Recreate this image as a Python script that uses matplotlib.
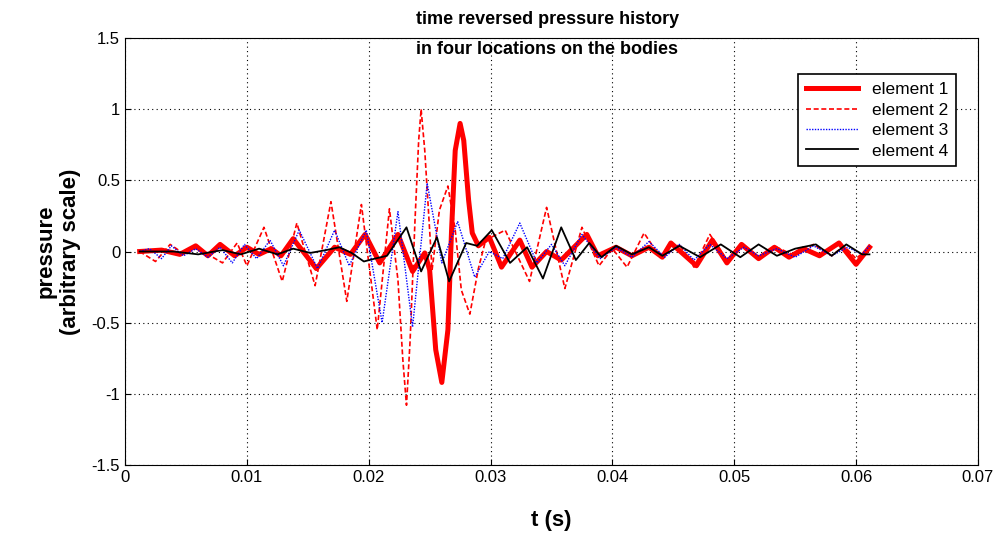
import matplotlib
matplotlib.use("Agg")
import matplotlib.pyplot as plt

plt.rcParams["font.family"] = ["Liberation Sans", "DejaVu Sans"]

# element 1 (thick red)
t1 = [0.0012, 0.003, 0.0045, 0.0058, 0.0068, 0.0078, 0.009, 0.010, 0.011, 0.012, 0.0128,
      0.0138, 0.0157, 0.0172, 0.0185, 0.0197, 0.0209, 0.0224, 0.0236, 0.0246, 0.0250,
      0.0255, 0.0260, 0.0265, 0.0268, 0.0271, 0.0275, 0.0278, 0.0282, 0.0285, 0.0290,
      0.0299, 0.0309, 0.0324, 0.0334, 0.0346, 0.0358, 0.0379, 0.0388, 0.0403,
      0.0416, 0.0430, 0.0441, 0.0448, 0.0469, 0.0482, 0.0494, 0.0506, 0.0520, 0.0533, 0.0545,
      0.0557, 0.0570, 0.0586, 0.0600, 0.0611]
p1 = [0.0, 0.01, -0.02, 0.04, -0.03, 0.05, -0.03, 0.03, -0.02, 0.02, -0.03,
      0.09, -0.12, 0.03, -0.02, 0.12, -0.08, 0.12, -0.14, -0.01, -0.13,
      -0.69, -0.92, -0.55, 0.15, 0.71, 0.90, 0.78, 0.36, 0.13, 0.04,
      0.10, -0.11, 0.08, -0.11, 0.0, -0.06, 0.12, -0.03, 0.03,
      -0.03, 0.03, -0.04, 0.06, -0.10, 0.08, -0.08, 0.05, -0.05, 0.03, -0.04,
      0.02, -0.03, 0.06, -0.09, 0.03]

# element 2 (red dashed)
t2 = [0.0012, 0.0025, 0.0037, 0.0049, 0.0060, 0.0070, 0.0080, 0.0092, 0.0100, 0.0114,
      0.0129, 0.0141, 0.0156, 0.0169, 0.0182, 0.0194, 0.0207, 0.0217, 0.0224, 0.0228,
      0.0231, 0.0234, 0.0238, 0.0241, 0.0243, 0.0246, 0.0250, 0.0252, 0.0258, 0.0265,
      0.0271, 0.0276, 0.0283, 0.0290, 0.0296, 0.0312, 0.0332, 0.0346, 0.0361, 0.0375,
      0.0389, 0.0400, 0.0412, 0.0426, 0.0440, 0.0455, 0.0467, 0.0480, 0.0494, 0.0505,
      0.0520, 0.0535, 0.0550, 0.0565, 0.0580, 0.0590, 0.0600, 0.0612]
p2 = [0.0, -0.07, 0.05, -0.02, 0.03, -0.03, -0.08, 0.06, -0.10, 0.17,
      -0.21, 0.20, -0.24, 0.35, -0.35, 0.33, -0.55, 0.30, -0.20, -0.76,
      -1.08, -0.62, 0.22, 0.78, 1.00, 0.71, 0.15, -0.13, 0.29, 0.46,
      0.15, -0.27, -0.44, -0.12, 0.08, 0.15, -0.21, 0.31, -0.26, 0.17,
      -0.10, 0.02, -0.11, 0.13, -0.05, 0.05, -0.11, 0.12, -0.06, 0.04,
      -0.04, 0.03, -0.03, 0.05, -0.03, 0.04, -0.05, 0.04]

# element 3 (blue dotted)
t3 = [0.0012, 0.0020, 0.0030, 0.0038, 0.0048, 0.0058, 0.0068, 0.0078, 0.0088, 0.0098,
      0.0108, 0.0119, 0.0130, 0.0143, 0.0158, 0.0172, 0.0184, 0.0198, 0.0211, 0.0224,
      0.0236, 0.0248, 0.0260, 0.0273, 0.0287, 0.0299, 0.0310, 0.0324, 0.0338, 0.0350,
      0.0361, 0.0375, 0.0390, 0.0403, 0.0416, 0.0430, 0.0443, 0.0455, 0.0467, 0.0480,
      0.0494, 0.0508, 0.0520, 0.0535, 0.0550, 0.0565, 0.0580, 0.0593, 0.0605, 0.0611]
p3 = [0.0, 0.02, -0.05, 0.04, -0.03, 0.02, -0.04, 0.03, -0.08, 0.05,
      -0.05, 0.08, -0.10, 0.15, -0.12, 0.15, -0.10, 0.15, -0.50, 0.28,
      -0.53, 0.48, -0.08, 0.21, -0.18, 0.0, -0.05, 0.20, -0.08, 0.05,
      -0.10, 0.12, -0.05, 0.03, -0.04, 0.07, -0.04, 0.05, -0.06, 0.05,
      -0.05, 0.03, -0.03, 0.02, -0.04, 0.04, -0.03, 0.03, -0.02, 0.04]

# element 4 (black)
t4 = [0.0012, 0.0040, 0.0060, 0.0080, 0.0095, 0.0110, 0.0125, 0.0138, 0.0152, 0.0165,
      0.0176, 0.0186, 0.0196, 0.0205, 0.0215, 0.0231, 0.0243, 0.0256, 0.0266, 0.0280,
      0.0289, 0.0301, 0.0316, 0.0330, 0.0343, 0.0358, 0.0370, 0.0381, 0.0391, 0.0403,
      0.0416, 0.0430, 0.0441, 0.0455, 0.0472, 0.0489, 0.0505, 0.0520, 0.0535, 0.0550,
      0.0567, 0.0580, 0.0592, 0.0605, 0.0611]
p4 = [0.0, 0.0, -0.02, 0.01, -0.02, 0.02, -0.02, 0.02, -0.01, 0.01,
      0.03, -0.01, -0.07, -0.05, -0.03, 0.17, -0.14, 0.10, -0.21, 0.06,
      0.04, 0.15, -0.08, 0.03, -0.19, 0.17, -0.06, 0.06, -0.04, 0.04,
      -0.02, 0.03, -0.03, 0.04, -0.04, 0.05, -0.04, 0.05, -0.03, 0.02,
      0.05, -0.03, 0.05, -0.02, -0.02]

labels = ["element 1", "element 2", "element 3", "element 4"]
xticks = [0, 0.01, 0.02, 0.03, 0.04, 0.05, 0.06, 0.07]
yticks = [-1.5, -1, -0.5, 0, 0.5, 1, 1.5]

fig = plt.figure(figsize=(9.94, 5.34), dpi=100)
ax = fig.add_axes([0.1258, 0.1292, 0.858, 0.7996])

ax.plot(t1, p1, color="#ff0000", lw=3.6, solid_joinstyle="round", label=labels[0])
ax.plot(t2, p2, color="#ff0000", lw=1.2, ls=(0, (3, 1.6)), dash_joinstyle="round", label=labels[1])
ax.plot(t3, p3, color="#0000ff", lw=1.0, ls=(0, (1, 1)), label=labels[2])
ax.plot(t4, p4, color="black", lw=1.3, solid_joinstyle="round", label=labels[3])

ax.set_xlim(0, 0.07)
ax.set_ylim(-1.5, 1.5)
ax.set_xticks(xticks)
ax.set_xticklabels(["0", "0.01", "0.02", "0.03", "0.04", "0.05", "0.06", "0.07"])
ax.set_yticks(yticks)
ax.set_yticklabels(["-1.5", "-1", "-0.5", "0", "0.5", "1", "1.5"])
ax.tick_params(direction="in", labelsize=12, length=4)
ax.grid(True, color="black", ls=(0, (1, 3)), lw=0.8)

ax.set_xlabel("t (s)", fontsize=16, fontweight="bold", labelpad=18)
ax.set_ylabel("pressure\n(arbitrary scale)", fontsize=16, fontweight="bold", labelpad=8)
ax.text(0.495, 1.063, "time reversed pressure history\nin four locations on the bodies",
        transform=ax.transAxes, ha="center", va="top", fontsize=13, fontweight="bold",
        linespacing=2.0)

leg = ax.legend(loc="upper right", bbox_to_anchor=(0.985, 0.935), fontsize=12.5,
                fancybox=False, framealpha=1, edgecolor="black", handlelength=3.0,
                borderpad=0.45, labelspacing=0.3)
leg.get_frame().set_linewidth(1.2)

fig.savefig("out.png", dpi=100, facecolor="white")
